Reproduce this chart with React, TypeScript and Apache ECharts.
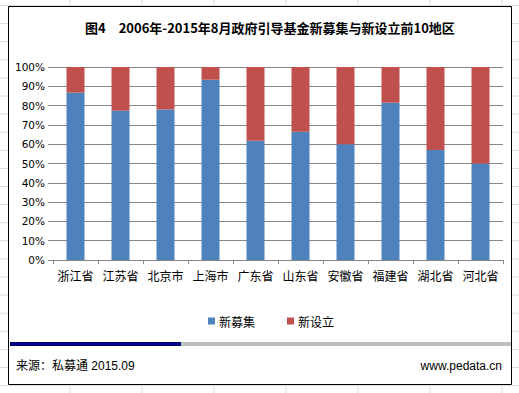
import React, { useEffect, useRef } from "react";
import * as echarts from "echarts";

const categories = ["浙江省", "江苏省", "北京市", "上海市", "广东省", "山东省", "安徽省", "福建省", "湖北省", "河北省"];
const newRaised = [86.7, 77.4, 78, 93.4, 61.8, 66.5, 60, 81.5, 57, 50];
const newEstablished = newRaised.map((v) => +(100 - v).toFixed(1));
const seriesNames = ["新募集", "新设立"];
const titleText = "图4　2006年-2015年8月政府引导基金新募集与新设立前10地区";
const sourceText = "来源：私募通 2015.09";
const siteText = "www.pedata.cn";

const W = 519;
const H = 393;

export default function App() {
  const ref = useRef<HTMLDivElement>(null);
  useEffect(() => {
    document.body.style.margin = "0";
    const chart = echarts.init(ref.current!, null, { renderer: "svg" });
    const bg: any[] = [];
    for (let x = 70; x < W; x += 72) {
      bg.push({ type: "line", shape: { x1: x, y1: 0, x2: x, y2: H }, style: { stroke: "#dcdcdc", lineWidth: 1 }, z: -3 });
    }
    for (let y = 5.5; y < H; y += 18.1) {
      bg.push({ type: "line", shape: { x1: 0, y1: y, x2: W, y2: y }, style: { stroke: "#dcdcdc", lineWidth: 1 }, z: -3 });
    }
    chart.setOption({
      animation: false,
      backgroundColor: "#fff",
      color: ["#4F81BD", "#C0504D"],
      graphic: [
        ...bg,
        { type: "rect", shape: { x: 8.5, y: 6.5, width: 503, height: 378 }, style: { fill: "#fff", stroke: "#000", lineWidth: 1 }, z: -2 },
        { type: "text", x: 85, y: 27, style: { text: titleText, font: "bold 13px 'Noto Sans CJK SC'", fill: "#000", verticalAlign: "middle" }, z: 2 },
        { type: "rect", shape: { x: 10, y: 342, width: 171, height: 4 }, style: { fill: "#000080" }, z: 2 },
        { type: "rect", shape: { x: 181, y: 342, width: 330, height: 4 }, style: { fill: "#BFBFBF" }, z: 2 },
        { type: "text", x: 16, y: 366, style: { text: sourceText, font: "12px 'Liberation Sans', 'Noto Sans CJK SC'", fill: "#000", verticalAlign: "middle" }, z: 2 },
        { type: "text", x: 502, y: 366, style: { text: siteText, font: "12px 'Liberation Sans'", fill: "#000", align: "right", verticalAlign: "middle" }, z: 2 },
      ],
      legend: {
        data: seriesNames,
        left: 203,
        top: 310,
        itemWidth: 7,
        itemHeight: 7,
        itemGap: 32,
        icon: "rect",
        textStyle: { fontSize: 12, fontFamily: "'Noto Sans CJK SC'", color: "#000", padding: [0, 0, 0, -1] },
      },
      grid: { left: 53, right: 16, top: 67, bottom: 133, containLabel: false },
      xAxis: {
        type: "category",
        data: categories,
        axisLine: { lineStyle: { color: "#868686" } },
        axisTick: { show: true, length: 4, interval: 0, lineStyle: { color: "#868686" } },
        axisLabel: { interval: 0, fontSize: 12, fontFamily: "'Noto Sans CJK SC'", color: "#000", margin: 9 },
      },
      yAxis: {
        type: "value",
        min: 0,
        max: 100,
        interval: 10,
        axisLine: { show: false },
        axisTick: { show: true, length: 5, lineStyle: { color: "#868686" } },
        splitLine: { lineStyle: { color: "#868686" } },
        axisLabel: { formatter: "{value}%", fontSize: 10.5, fontFamily: "'DejaVu Sans'", color: "#000", margin: 8 },
      },
      series: [
        { name: seriesNames[0], type: "bar", stack: "total", barWidth: 18, data: newRaised },
        { name: seriesNames[1], type: "bar", stack: "total", barWidth: 18, data: newEstablished },
      ],
    });
    return () => chart.dispose();
  }, []);
  return <div ref={ref} style={{ width: W, height: H, position: "absolute", left: 0, top: 0 }} />;
}
